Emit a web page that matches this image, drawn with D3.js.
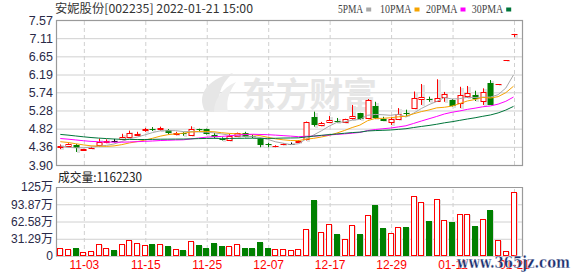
<!DOCTYPE html>
<html><head><meta charset="utf-8">
<script src="https://cdn.jsdelivr.net/npm/d3@7"></script>
<style>body{margin:0;background:#fff}svg{display:block}</style>
</head><body>
<svg id="c" width="578" height="276"></svg>
<script>
const dates = ["10-29","11-01","11-02","11-03","11-04","11-05","11-08","11-09","11-10","11-11","11-12",
"11-15","11-16","11-17","11-18","11-19","11-22","11-23","11-24","11-25","11-26","11-29","11-30",
"12-01","12-02","12-03","12-06","12-07","12-08","12-09","12-10","12-13","12-14","12-15","12-16","12-17",
"12-20","12-21","12-22","12-23","12-24","12-27","12-28","12-29","12-30","12-31",
"01-04","01-05","01-06","01-07","01-10","01-11","01-12","01-13","01-14","01-17","01-18","01-19","01-20","01-21"];
const open  = [4.35,4.38,4.41,4.29,4.32,4.41,4.47,4.51,4.55,4.62,4.67,4.78,4.82,4.81,4.79,4.68,4.70,4.67,4.80,4.80,
4.65,4.57,4.53,4.64,4.72,4.64,4.56,4.43,4.38,4.42,4.44,4.47,4.55,5.11,4.92,5.00,5.01,4.98,5.10,5.21,
5.08,5.39,5.07,5.00,5.06,5.22,5.34,5.56,5.57,5.53,5.62,5.55,5.48,5.65,5.66,5.52,5.97,5.96,6.56,7.22];
const high  = [4.42,4.45,4.43,4.31,4.36,4.57,4.55,4.56,4.69,4.77,4.74,4.84,4.86,4.87,4.81,4.74,4.73,4.88,4.82,4.82,
4.71,4.60,4.69,4.72,4.74,4.67,4.58,4.46,4.40,4.45,4.47,4.53,5.00,5.25,4.99,5.14,5.09,5.07,5.42,5.22,
5.57,5.50,5.12,5.12,5.34,5.30,5.76,5.95,5.63,6.07,5.75,5.57,5.88,5.90,5.78,5.84,6.05,5.96,6.56,7.22];
const low   = [4.30,4.36,4.23,4.28,4.31,4.37,4.45,4.47,4.53,4.60,4.64,4.74,4.76,4.77,4.68,4.65,4.64,4.64,4.75,4.67,
4.58,4.52,4.52,4.62,4.60,4.58,4.35,4.35,4.35,4.40,4.43,4.46,4.52,4.87,4.88,4.96,4.96,4.96,5.05,5.04,
5.06,5.06,5.01,4.91,5.04,5.13,5.33,5.42,5.50,5.52,5.50,5.38,5.34,5.60,5.52,5.42,5.42,5.96,6.56,7.14];
const close = [4.37,4.42,4.33,4.30,4.34,4.49,4.52,4.51,4.61,4.70,4.69,4.80,4.80,4.83,4.72,4.70,4.68,4.80,4.78,4.69,
4.62,4.55,4.63,4.70,4.62,4.62,4.41,4.40,4.39,4.44,4.44,4.52,5.00,4.91,4.96,5.03,4.99,5.06,5.13,5.06,
5.55,5.10,5.02,5.06,5.19,5.20,5.59,5.61,5.55,5.59,5.70,5.40,5.66,5.72,5.56,5.74,5.42,5.96,6.56,7.22];
// volume in 万 shares
const volume = [14,12.7,14,6.7,9.7,22.4,14,10.3,21.2,28.5,24.2,20,21.8,21.2,18.1,12.1,10.9,27.2,20,14.5,
23.6,18.1,18.1,21.2,14.5,14.5,24.8,14.5,12.1,13.3,10.3,13.3,48.4,101,43,57.5,39.4,30.3,55.7,39.4,
73.8,92.5,51.4,41.1,52.6,52.6,108.3,97.4,63.5,102.8,64.8,61.7,75.6,75.6,54.4,66.5,83.4,28.5,9.1,116.223];
// closes before the first visible day (only used for moving averages)
const priorCloses = [4.95,4.97,4.93,4.90,4.92,4.88,4.85,4.83,4.80,4.78,
4.75,4.72,4.70,4.68,4.66,4.65,4.62,4.60,4.58,4.55,
4.62,4.64,4.60,4.58,4.55,4.60,4.38,4.30,4.26];
const priceTicks = [3.90,4.36,4.82,5.28,5.74,6.19,6.65,7.11,7.57];
const volTicks = [0,31.29,62.58,93.87,125.16];
const volLabels = ["0","31.29万","62.58万","93.87万","125万"];
const xTicks = ["11-03","11-15","11-25","12-07","12-17","12-29","01-11","01-21"];
const maDefs = [{n:5,name:"5PMA",color:"#a8a8a8"},{n:10,name:"10PMA",color:"#f5a300"},
                {n:20,name:"20PMA",color:"#ff00ff"},{n:30,name:"30PMA",color:"#00753a"}];
const title = "安妮股份[002235] 2022-01-21 15:00";
const volTitle = "成交量:1162230";

const svg = d3.select("#c");
const L=56,R=522,PT=20,PB=165,VT=187,VB=256;
const RED="#ff0000",GREEN="#008000",GRID="#d0d0d0",AX="#2a2a48";

const x = d3.scalePoint().domain(dates).range([60.3,513.5]);
const yP = d3.scaleLinear().domain([3.90,7.57]).range([PB,PT]);
const yV = d3.scaleLinear().domain([0,125.16]).range([VB,VT]);
const px = d => Math.round(x(d))+0.5;

// grids
function hgrid(scale, ticks, top, bottom){
  const g = svg.append("g").attr("transform",`translate(${L},0)`)
    .call(d3.axisLeft(scale).tickValues(ticks).tickSize(-(R-L)).tickFormat(""));
  g.select(".domain").remove();
  g.selectAll("line").attr("stroke",GRID);
}
function vgrid(top,bottom){
  const g = svg.append("g").attr("transform",`translate(0.5,${bottom})`)
    .call(d3.axisBottom(x).tickValues(xTicks).tickSize(-(bottom-top)).tickFormat(""));
  g.select(".domain").remove();
  g.selectAll("line").attr("stroke",GRID).attr("stroke-dasharray","4,3");
}
hgrid(yP, priceTicks);
hgrid(yV, volTicks);
vgrid(PT,PB); vgrid(VT,VB);

// watermark
const wm = svg.append("g").attr("fill","#e6e6e6");
wm.append("path").attr("d","M205,111 C197,96 205,80 233,73 C219,86 216,98 222,112 Z");
wm.append("path").attr("d","M214,112 C214,100 222,88 236,82 C228,93 226,102 228,112 Z").attr("fill","#ececec");
wm.append("text").attr("x",242).attr("y",107).attr("font-family","Noto Sans CJK SC")
  .attr("font-weight","bold").attr("font-size",34).attr("textLength",135).text("东方财富");

// borders
svg.append("rect").attr("x",L+0.5).attr("y",PT+0.5).attr("width",R-L).attr("height",PB-PT)
  .attr("fill","none").attr("stroke","#9a9a9a").attr("stroke-width",1.2);
svg.append("path").attr("d",`M${L+0.5},${VB+0.5}V${VT+0.5}H${R+0.5}V${VB+0.5}`)
  .attr("fill","none").attr("stroke","#9a9a9a").attr("stroke-width",1.2);

// axes labels
function yLabels(scale, ticks, fmt){
  const g = svg.append("g").attr("transform",`translate(${L},0)`)
    .call(d3.axisLeft(scale).tickValues(ticks).tickSize(0).tickPadding(3).tickFormat(fmt));
  g.select(".domain").remove();
  g.selectAll("text").attr("fill",AX).attr("font-family","Liberation Sans, Arial").attr("font-size",12.5);
  return g;
}
yLabels(yP, priceTicks, d3.format(".2f"));
const vl = yLabels(yV, volTicks, (d,i)=>volLabels[i]);
vl.selectAll("text").attr("font-family","Liberation Sans, Noto Sans CJK SC").attr("font-size",12);
const xa = svg.append("g").attr("transform",`translate(0.5,${VB})`)
  .call(d3.axisBottom(x).tickValues(xTicks).tickSize(0).tickPadding(4));
xa.select(".domain").remove();
xa.selectAll("text").attr("fill",RED).attr("font-family","Liberation Sans, Arial").attr("font-size",12);

// titles & legend
svg.append("text").attr("x",55).attr("y",13).attr("font-family","Noto Sans CJK SC")
  .attr("font-size",12).attr("fill","#333").attr("textLength",198).attr("lengthAdjust","spacingAndGlyphs").text(title);
svg.append("text").attr("x",58).attr("y",182).attr("font-family","Noto Sans CJK SC")
  .attr("font-size",12.5).attr("fill","#222").attr("textLength",84).attr("lengthAdjust","spacingAndGlyphs").text(volTitle);
const legX = [338,380,426,471.7];
maDefs.forEach((m,i)=>{
  const w = m.name.length*6.3;
  svg.append("text").attr("x",legX[i]).attr("y",12.5).attr("font-family","Liberation Serif, DejaVu Serif")
    .attr("font-size",11.5).attr("fill","#444").attr("textLength",w).attr("lengthAdjust","spacingAndGlyphs").text(m.name);
  svg.append("rect").attr("x",legX[i]+w+3).attr("y",7.5).attr("width",5).attr("height",4).attr("fill",m.color);
});

// colors
const candleColor = i => close[i]>open[i]?RED: close[i]<open[i]?GREEN: (high[i]===close[i]?RED:"#000");
const volUp = i => close[i]>open[i] || (close[i]===open[i] && (i===0 || close[i]>=close[i-1]));

// volume bars
const vb = svg.append("g");
dates.forEach((d,i)=>{
  const cx = Math.round(x(d));
  const top = Math.round(yV(volume[i]));
  vb.append("rect").attr("x",cx-1).attr("y",top+1).attr("width",5).attr("height",VB-top-1).attr("fill","#dcdcdc");
  if(volUp(i)){
    vb.append("rect").attr("x",cx-2.5).attr("y",top+0.5).attr("width",5).attr("height",VB-top-1)
      .attr("fill","#fff").attr("stroke",RED).attr("stroke-width",1);
  } else {
    vb.append("rect").attr("x",cx-3).attr("y",top).attr("width",6).attr("height",VB-top).attr("fill",GREEN);
  }
});

// candles
const cg = svg.append("g");
dates.forEach((d,i)=>{
  const cx = px(d), col = candleColor(i);
  const yo=yP(open[i]), yc=yP(close[i]), yh=yP(high[i]), yl=yP(low[i]);
  const bt = Math.round(Math.min(yo,yc)), bb = Math.round(Math.max(yo,yc));
  cg.append("rect").attr("x",cx+0.5).attr("y",Math.round(yh)+1).attr("width",3).attr("height",Math.max(1,Math.round(yl)-Math.round(yh))).attr("fill","#e2e2e2");
  if(bb-bt<1){
    cg.append("line").attr("x1",cx).attr("x2",cx).attr("y1",yh).attr("y2",yl).attr("stroke",col);
    cg.append("line").attr("x1",cx-3).attr("x2",cx+3).attr("y1",bt+0.5).attr("y2",bt+0.5).attr("stroke",col);
  } else if(col===RED){
    cg.append("line").attr("x1",cx).attr("x2",cx).attr("y1",yh).attr("y2",bt+0.5).attr("stroke",col);
    cg.append("line").attr("x1",cx).attr("x2",cx).attr("y1",bb+0.5).attr("y2",yl).attr("stroke",col);
    cg.append("rect").attr("x",cx-2.5).attr("y",bt+0.5).attr("width",5).attr("height",bb-bt).attr("fill","#fff").attr("stroke",col);
  } else {
    cg.append("line").attr("x1",cx).attr("x2",cx).attr("y1",yh).attr("y2",yl).attr("stroke",col);
    cg.append("rect").attr("x",cx-3).attr("y",bt).attr("width",6).attr("height",Math.max(1,bb-bt)).attr("fill",col);
  }
});

// moving averages
const all = priorCloses.concat(close);
const off = priorCloses.length;
maDefs.forEach(m=>{
  const vals = dates.map((d,i)=>d3.mean(all.slice(off+i-m.n+1, off+i+1)));
  svg.append("path").datum(vals).attr("fill","none").attr("stroke",m.color).attr("stroke-width",1)
    .attr("d", d3.line().x((v,i)=>x(dates[i])).y(v=>yP(v)));
});

// site watermark
svg.append("text").attr("x",457).attr("y",268).attr("font-family","DejaVu Serif")
  .attr("font-weight","bold").attr("font-size",17).attr("fill","#1c3170")
  .attr("stroke","#fff").attr("stroke-width",0.3)
  .attr("textLength",113).attr("lengthAdjust","spacingAndGlyphs").text("www.365jz.com");
</script>
</body></html>
